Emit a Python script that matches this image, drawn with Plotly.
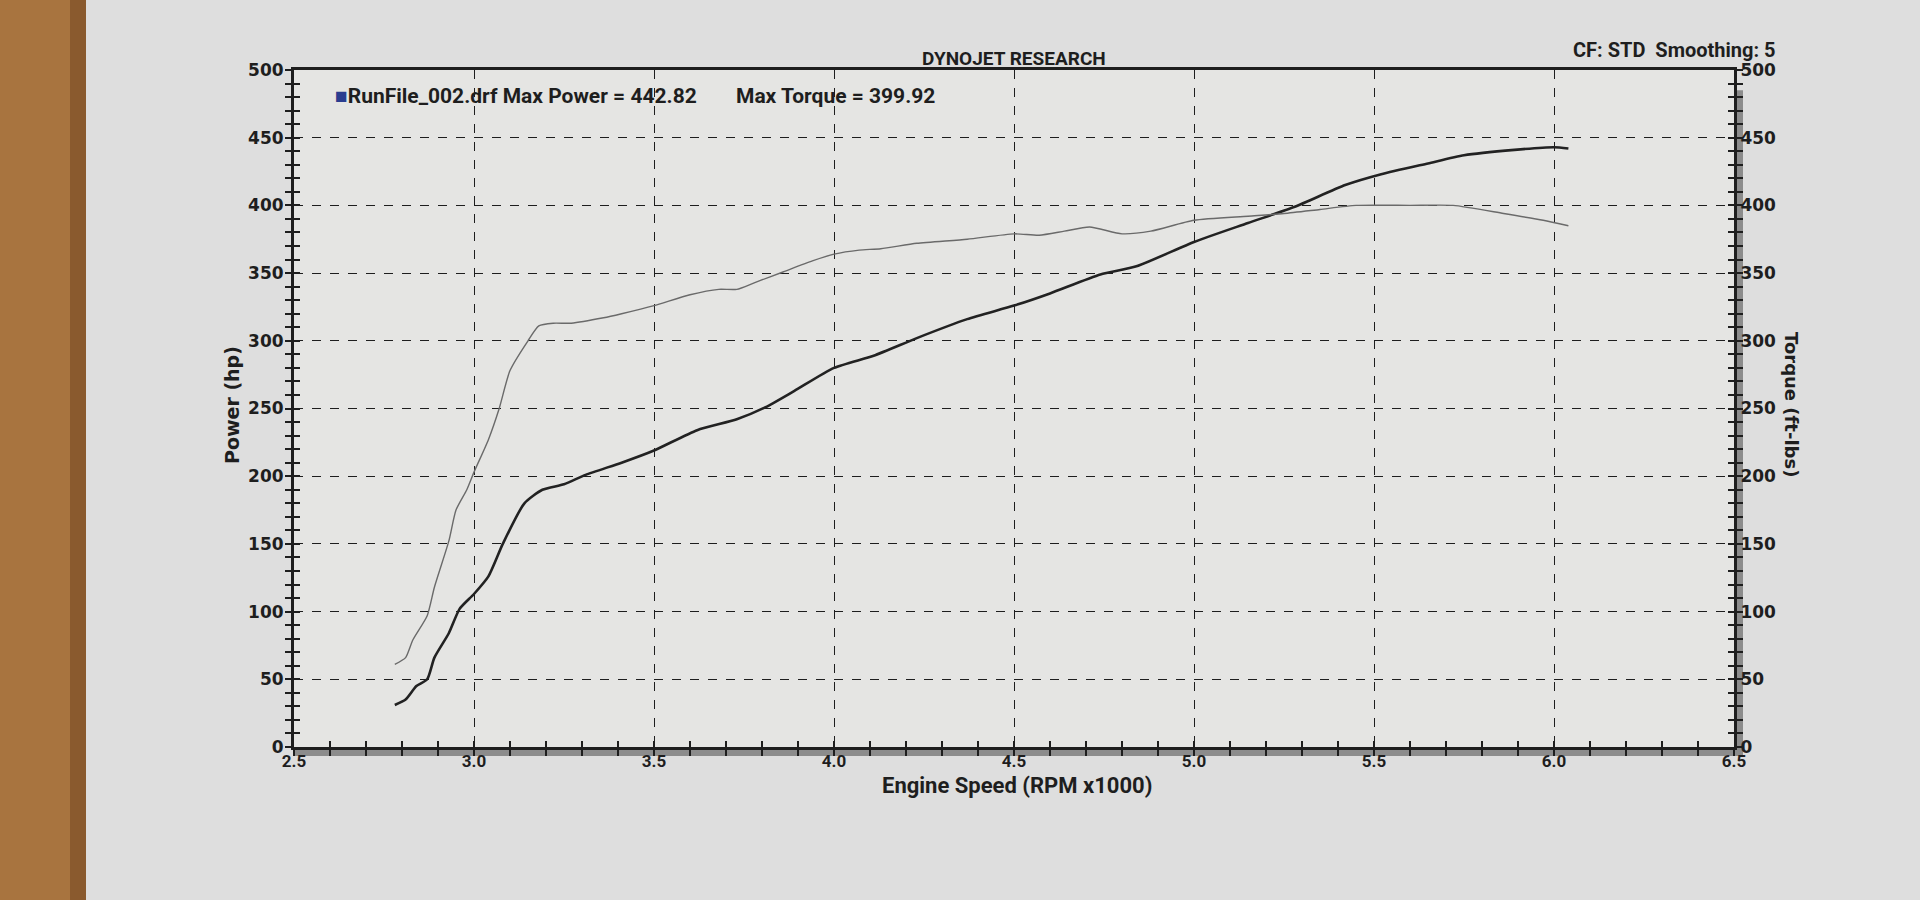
import plotly.graph_objects as go

# ---- data read from the dyno sheet ----
rpm_power = [2.78, 2.81, 2.84, 2.87, 2.89, 2.93, 2.96, 3.00, 3.04, 3.08, 3.14, 3.19, 3.25, 3.31,
             3.41, 3.50, 3.62, 3.73, 3.81, 3.89, 4.00, 4.11, 4.23, 4.37, 4.50, 4.60, 4.74, 4.84,
             5.00, 5.15, 5.28, 5.42, 5.52, 5.65, 5.75, 5.89, 6.00, 6.04]
power_hp = [31, 35, 45, 50, 66, 84, 102, 113, 126, 150, 180, 190, 194, 201,
            210, 219, 234, 242, 251, 263, 280, 289, 302, 316, 326, 335, 349, 355,
            373, 387, 399, 415, 423, 431, 437, 441, 443, 442]

rpm_torque = [2.78, 2.81, 2.83, 2.87, 2.89, 2.93, 2.95, 2.98, 3.00, 3.04, 3.07, 3.10, 3.15, 3.18,
              3.22, 3.27, 3.36, 3.41, 3.50, 3.60, 3.68, 3.73, 3.78, 3.86, 3.94, 4.00, 4.07, 4.13,
              4.23, 4.37, 4.50, 4.57, 4.64, 4.71, 4.80, 4.88, 5.00, 5.15, 5.25, 5.35, 5.45, 5.60,
              5.72, 5.86, 5.97, 6.04]
torque_ftlb = [61, 66, 79, 97, 118, 152, 175, 190, 203, 227, 250, 278, 300, 311,
               313, 313, 317, 320, 326, 334, 338, 338, 343, 351, 359, 364, 367, 368,
               372, 375, 379, 378, 381, 384, 379, 381, 389, 392, 394, 397, 400, 400,
               400, 394, 389, 385]

x_ticks = [2.5, 3.0, 3.5, 4.0, 4.5, 5.0, 5.5, 6.0, 6.5]
x_tick_labels = ["2.5", "3.0", "3.5", "4.0", "4.5", "5.0", "5.5", "6.0", "6.5"]
y_ticks = [0, 50, 100, 150, 200, 250, 300, 350, 400, 450, 500]
y_tick_labels = [str(v) for v in y_ticks]

run_name = "RunFile_002.drf"
max_power_text = "Max Power = 442.82"
max_torque_text = "Max Torque = 399.92"
title_text = "DYNOJET RESEARCH"
info_text = "CF: STD&nbsp;&nbsp;Smoothing: 5"

# ---- styling ----
INK = "#1e1e1e"
PAPER = "#dedede"
PLOT = "#e5e5e3"
VERD = "DejaVu Sans, Verdana, sans-serif"
NARROW = "Roboto, Liberation Sans Narrow, sans-serif"

L, R, T, B = 294, 186, 70, 153
W, H = 1920 - L - R, 900 - T - B

fig = go.Figure()

fig.add_trace(go.Scatter(x=rpm_torque, y=torque_ftlb, mode="lines", yaxis="y2",
                         line=dict(color="#6a6a6a", width=1.4, shape="spline", smoothing=0.6),
                         name="Torque", showlegend=False))
fig.add_trace(go.Scatter(x=rpm_power, y=power_hp, mode="lines", yaxis="y",
                         line=dict(color="#222222", width=2.6, shape="spline", smoothing=0.6),
                         name="Power", showlegend=False))
# invisible anchors so the overlay axes (inner tick halves) are drawn
fig.add_trace(go.Scatter(x=[x_ticks[0]], y=[y_ticks[0]], xaxis="x2", yaxis="y3",
                         mode="markers", marker=dict(opacity=0), hoverinfo="skip",
                         showlegend=False))
fig.add_trace(go.Scatter(x=[x_ticks[0]], y=[y_ticks[0]], xaxis="x2", yaxis="y4",
                         mode="markers", marker=dict(opacity=0), hoverinfo="skip",
                         showlegend=False))

grid = dict(showgrid=True, gridcolor=INK, gridwidth=1.4, griddash="dash")

fig.update_layout(
    width=1920, height=900,
    margin=dict(l=L, r=R, t=T, b=B),
    paper_bgcolor=PAPER, plot_bgcolor=PLOT,
    xaxis=dict(range=[2.5, 6.5], tickvals=x_ticks, ticktext=x_tick_labels,
               ticks="outside", ticklen=6, tickwidth=1.5, tickcolor=INK,
               minor=dict(dtick=0.1, ticks="outside", ticklen=6, tickwidth=1.5, tickcolor=INK),
               showline=True, linewidth=3, linecolor=INK, mirror=True,
               tickfont=dict(family=NARROW, size=17, color=INK, weight="bold"),
               ticklabelstandoff=-9,
               zeroline=False, **grid),
    xaxis2=dict(range=[2.5, 6.5], overlaying="x", showticklabels=False, showgrid=False,
                ticks="inside", ticklen=6, tickwidth=1.5, tickcolor=INK, tickvals=x_ticks,
                minor=dict(dtick=0.1, ticks="inside", ticklen=6, tickwidth=1.5, tickcolor=INK),
                zeroline=False, showline=False),
    yaxis=dict(range=[0, 500], tickvals=y_ticks, ticktext=y_tick_labels,
               ticks="outside", ticklen=6, tickwidth=1.5, tickcolor=INK,
               minor=dict(dtick=10, ticks="outside", ticklen=6, tickwidth=1.5, tickcolor=INK),
               showline=True, linewidth=3, linecolor=INK,
               tickfont=dict(family=VERD, size=17, color=INK, weight="bold"),
               ticklabelstandoff=-2,
               zeroline=False, **grid),
    yaxis2=dict(range=[0, 500], tickvals=y_ticks, ticktext=y_tick_labels, overlaying="y",
                side="right", ticks="outside", ticklen=6, tickwidth=1.5, tickcolor=INK,
                minor=dict(dtick=10, ticks="outside", ticklen=6, tickwidth=1.5, tickcolor=INK),
                showline=True, linewidth=3, linecolor=INK, showgrid=False,
                tickfont=dict(family=VERD, size=17, color=INK, weight="bold"),
                ticklabelstandoff=-6,
                zeroline=False),
    yaxis3=dict(range=[0, 500], overlaying="y", side="left", showticklabels=False,
                showgrid=False, ticks="inside", ticklen=6, tickwidth=1.5, tickcolor=INK,
                tickvals=y_ticks,
                minor=dict(dtick=10, ticks="inside", ticklen=6, tickwidth=1.5, tickcolor=INK),
                zeroline=False, showline=False),
    yaxis4=dict(range=[0, 500], overlaying="y", side="right", showticklabels=False,
                showgrid=False, ticks="inside", ticklen=6, tickwidth=1.5, tickcolor=INK,
                tickvals=y_ticks,
                minor=dict(dtick=10, ticks="inside", ticklen=6, tickwidth=1.5, tickcolor=INK),
                zeroline=False, showline=False),
)

def px_x(px):
    return (px - L) / W

def px_y(py):
    return (900 - B - py) / H

ann = []
ann.append(dict(text=f"<b>{title_text}</b>", x=0.5, y=px_y(58), xref="paper", yref="paper",
                showarrow=False, xanchor="center", yanchor="middle",
                font=dict(family=NARROW, size=19, color=INK)))
ann.append(dict(text=f"<b>{info_text}</b>", x=px_x(1778), y=px_y(50), xref="paper", yref="paper",
                showarrow=False, xanchor="right", yanchor="middle",
                font=dict(family=NARROW, size=20, color=INK)))
ann.append(dict(text=f"<span style='color:#2a3d8f'>\u25A0</span><b>{run_name} {max_power_text}</b>",
                x=px_x(333), y=px_y(96), xref="paper", yref="paper",
                showarrow=False, xanchor="left", yanchor="middle",
                font=dict(family=NARROW, size=21, color=INK)))
ann.append(dict(text=f"<b>{max_torque_text}</b>",
                x=px_x(734), y=px_y(96), xref="paper", yref="paper",
                showarrow=False, xanchor="left", yanchor="middle",
                font=dict(family=NARROW, size=21, color=INK)))
ann.append(dict(text="<b>Power (hp)</b>", x=px_x(232), y=px_y(405), xref="paper", yref="paper",
                showarrow=False, textangle=-90, xanchor="center", yanchor="middle",
                font=dict(family=VERD, size=19, color=INK)))
ann.append(dict(text="<b>Torque (ft-lbs)</b>", x=px_x(1792), y=px_y(404), xref="paper", yref="paper",
                showarrow=False, textangle=90, xanchor="center", yanchor="middle",
                font=dict(family=VERD, size=18, color=INK)))
ann.append(dict(text="<b>Engine Speed (RPM x1000)</b>", x=px_x(1017), y=px_y(785),
                xref="paper", yref="paper", showarrow=False, xanchor="center", yanchor="middle",
                font=dict(family=NARROW, size=22, color=INK)))
fig.update_layout(annotations=ann)

shapes = [
    # wood table edge on the left of the photo
    dict(type="rect", xref="paper", yref="paper", xsizemode="pixel", xanchor=0,
         x0=-L, x1=-L + 86, y0=-0.5, y1=1.5, fillcolor="#a8743f", line=dict(width=0),
         layer="below"),
    dict(type="rect", xref="paper", yref="paper", xsizemode="pixel", xanchor=0,
         x0=-L + 70, x1=-L + 86, y0=-0.5, y1=1.5, fillcolor="#8a5a2e", line=dict(width=0),
         layer="below"),
    # grey shadow under the x axis and beside the right axis
    dict(type="rect", xref="paper", yref="paper", ysizemode="pixel", yanchor=0,
         x0=0, x1=1.006, y0=-2, y1=-9, fillcolor="#8c8c8c", line=dict(width=0), layer="below"),
    dict(type="rect", xref="paper", yref="paper", xsizemode="pixel", xanchor=1,
         x0=2, x1=9, y0=-0.012, y1=0.97, fillcolor="#8c8c8c", line=dict(width=0), layer="below"),
]
fig.update_layout(shapes=shapes)

fig.write_html("out.html", config={"displayModeBar": False},
               post_script="document.body.style.margin='0';")
